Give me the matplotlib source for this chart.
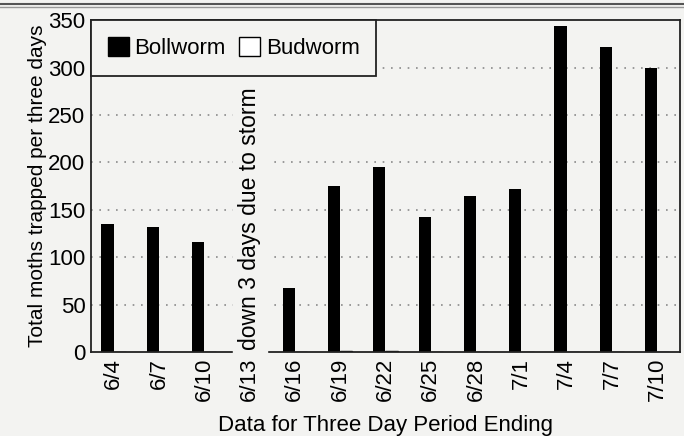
import numpy as np
import matplotlib.pyplot as plt
from matplotlib.patches import Patch
from matplotlib.lines import Line2D

plt.rcParams['font.family'] = ['Liberation Sans', 'DejaVu Sans']

# data
periods = ['6/4', '6/7', '6/10', '6/13', '6/16', '6/19', '6/22',
           '6/25', '6/28', '7/1', '7/4', '7/7', '7/10']
bollworm = [135, 132, 116, 0, 68, 175, 195, 142, 165, 172, 344, 322, 300]
budworm = [0, 0, 0, 0, 0, 1, 1, 0, 0, 0, 0, 0, 0]
yticks = [0, 50, 100, 150, 200, 250, 300, 350]

bg = '#f3f3f1'
x = np.arange(len(periods))
w = 0.27

fig = plt.figure(figsize=(6.84, 4.36), dpi=100, facecolor=bg)
ax = fig.add_axes([0.133, 0.192, 0.861, 0.762], facecolor=bg)

# grid behind the bars
for v in yticks[1:-1]:
    ax.axhline(v, color='#8a8a8a', lw=1.2, linestyle=(0, (1, 4)), zorder=0)

ax.bar(x - w / 2, bollworm, width=w, color='black', zorder=2)
ax.bar(x + w / 2, budworm, width=w, color='white', edgecolor='black', lw=1, zorder=2)

# storm note on the missing period
ax.text(3, 2, 'down 3 days due to storm', rotation=90, ha='center', va='bottom',
        fontsize=16.5, backgroundcolor=bg, zorder=3)

ax.set_xlim(-0.5, len(periods) - 0.5)
ax.set_ylim(0, 350)
ax.set_yticks(yticks)
ax.set_xticks(x)
ax.set_xticklabels(periods, rotation=90)
ax.tick_params(axis='both', length=0, labelsize=16)
ax.tick_params(axis='y', pad=4)
ax.tick_params(axis='x', pad=4)
for s in ax.spines.values():
    s.set_linewidth(1.3)
    s.set_color('#222222')

ax.set_ylabel('Total moths trapped per three days', fontsize=15, labelpad=1)
ax.set_xlabel('Data for Three Day Period Ending', fontsize=16, labelpad=10)

handles = [Patch(facecolor='black', edgecolor='black', label='Bollworm'),
           Patch(facecolor='white', edgecolor='black', label='Budworm')]
leg = ax.legend(handles=handles, loc='upper left', bbox_to_anchor=(0, 1),
                borderaxespad=0, ncol=2, fontsize=16, frameon=True, fancybox=False,
                handlelength=0.95, handleheight=0.95, handletextpad=0.25,
                columnspacing=0.6, borderpad=0.75)
leg.get_frame().set_edgecolor('#222222')
leg.get_frame().set_linewidth(1.3)
leg.get_frame().set_facecolor(bg)
leg.get_frame().set_alpha(1)
leg.set_zorder(5)

# page border line at the top of the scan
fig.add_artist(Line2D([0, 1], [0.99, 0.99], color='#555555', lw=1.5))
fig.add_artist(Line2D([0, 1], [0.984, 0.984], color='#999999', lw=1))

fig.savefig('out.png', dpi=100, facecolor=bg)
